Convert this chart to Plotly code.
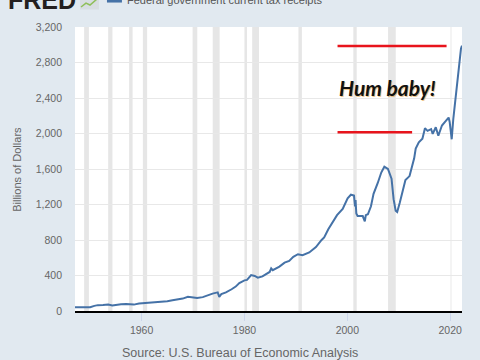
import plotly.graph_objects as go

years = [1947.0, 1948.0, 1948.5, 1949.3, 1950.0, 1950.8, 1951.5, 1952.5, 1953.5, 1954.3,
         1955.0, 1956.0, 1957.0, 1957.8, 1958.5, 1959.5, 1960.3, 1961.0, 1962.0, 1963.0,
         1964.0, 1965.0, 1966.0, 1967.0, 1968.0, 1969.0, 1970.0, 1970.8, 1971.9, 1973.0,
         1973.8, 1974.8, 1975.1, 1975.5, 1976.4, 1977.5, 1978.3, 1979.0, 1980.0, 1980.5,
         1981.3, 1982.0, 1982.6, 1983.5, 1984.5, 1984.9, 1985.2, 1985.5, 1986.8, 1987.8,
         1988.7, 1989.5, 1990.4, 1991.3, 1992.6, 1993.9, 1995.0, 1995.5, 1996.3, 1997.1,
         1998.0, 1999.1, 2000.06, 2000.7, 2001.3, 2001.5, 2001.6, 2001.75, 2002.0, 2003.0,
         2003.4, 2003.6, 2004.0, 2004.6, 2005.1, 2005.9, 2006.6, 2007.2, 2007.9, 2008.6,
         2009.0, 2009.4, 2009.7, 2010.2, 2010.8, 2011.3, 2012.1, 2013.0, 2013.3, 2013.9,
         2014.6, 2015.1, 2015.6, 2016.3, 2016.6, 2017.2, 2017.7, 2018.4, 2019.2, 2019.7,
         2019.9, 2020.3, 2020.6, 2021.1, 2021.6, 2022.1, 2022.3]
receipts = [42, 43, 41, 36, 42, 58, 66, 68, 72, 63,
            70, 76, 78, 74, 72, 84, 88, 85, 94, 99,
            100, 110, 120, 126, 140, 160, 152, 146, 156, 180,
            196, 210, 160, 190, 210, 245, 275, 315, 345, 350,
            405, 395, 375, 390, 425, 440, 480, 460, 500, 545,
            565, 610, 640, 628, 660, 720, 800, 830, 920, 1000,
            1080, 1150, 1270, 1310, 1300, 1180, 1250, 1100, 1070, 1070,
            1010, 1080, 1090, 1180, 1320, 1440, 1560, 1625, 1600, 1490,
            1260, 1130, 1115, 1220, 1350, 1475, 1520, 1720, 1830, 1900,
            1940, 2060, 2030, 2050, 1995, 2070, 1975, 2090, 2145, 2180,
            2130, 1935, 2160, 2430, 2690, 2955, 2990]

recession_start = [1948.83, 1953.5, 1957.58, 1960.25, 1969.92, 1973.83, 1980.0, 1981.5, 1990.5, 2001.17, 2007.92, 2020.08]
recession_end = [1949.75, 1954.33, 1958.25, 1961.08, 1970.83, 1975.17, 1980.5, 1982.83, 1991.17, 2001.83, 2009.42, 2020.25]

x_ticks = [1960, 1980, 2000, 2020]
y_ticks = [0, 400, 800, 1200, 1600, 2000, 2400, 2800, 3200]

# annotation lines (year start, year end, level)
red_lines = [(1998.1, 2019.3, 2985), (1998.1, 2012.6, 2013)]
note_text = "Hum baby!"
note_pos = (2007.8, 2520)

series_name = "Federal government current tax receipts"
y_title = "Billions of Dollars"
source = "Source: U.S. Bureau of Economic Analysis"

BG = "#e1e9f0"
LINE = "#4572a7"
GREY = "#666666"

PW, PH, L, T = 387.5, 284.5, 75, 27


def px(xp):
    return (xp - L) / PW


def py(yp):
    return (T + PH - yp) / PH


fig = go.Figure()
fig.add_trace(go.Scatter(x=years, y=receipts, mode="lines",
                         line=dict(color=LINE, width=2), name=series_name,
                         showlegend=False))

shapes = []
for s, e in zip(recession_start, recession_end):
    shapes.append(dict(type="rect", xref="x", yref="paper", x0=s, x1=e, y0=0, y1=1,
                       fillcolor="#e6e6e6", line=dict(width=0), layer="below"))
for x0, x1, lv in red_lines:
    shapes.append(dict(type="line", xref="x", yref="y", x0=x0, x1=x1, y0=lv, y1=lv,
                       line=dict(color="#e8141c", width=2.5)))
# legend swatch
shapes.append(dict(type="rect", xref="paper", yref="paper", x0=px(107), x1=px(122),
                   y0=py(2.5), y1=py(-3), fillcolor=LINE, line=dict(width=0)))
# small FRED logo icon
shapes.append(dict(type="rect", xref="paper", yref="paper", x0=px(80), x1=px(99),
                   y0=py(9.5), y1=py(-6), fillcolor="#d8dde2", line=dict(width=0)))
shapes.append(dict(type="path", xref="paper", yref="paper",
                   path=f"M {px(81)} {py(7)} L {px(86)} {py(3)} L {px(90)} {py(5)} L {px(97)} {py(-1)}",
                   line=dict(color="#8fbf5a", width=1.5)))
fig.update_layout(shapes=shapes)

annotations = [
    dict(x=note_pos[0], y=note_pos[1], xref="x", yref="y", text="<b><i>" + note_text + "</i></b>",
         showarrow=False, font=dict(family="Lato", size=21, color="#111111",
                                    shadow="1px 1px 0px rgba(225,150,40,0.55)")),
    dict(x=px(125), y=py(8), xref="paper", yref="paper", xanchor="left", yanchor="bottom",
         text=series_name, showarrow=False, font=dict(family="Arial", size=11, color="#555555")),
    dict(x=px(6), y=py(16), xref="paper", yref="paper", xanchor="left", yanchor="bottom",
         text="<b>FRED</b>", showarrow=False,
         font=dict(family="Liberation Sans", size=25, color="#231f20")),
    dict(x=px(120), y=py(354), xref="paper", yref="paper", xanchor="left", yanchor="middle",
         text=source, showarrow=False, font=dict(family="Arial", size=12.5, color="#666666")),
    dict(x=px(17), y=py(170), xref="paper", yref="paper", xanchor="center", yanchor="middle",
         text=y_title, textangle=-90, showarrow=False, font=dict(family="Arial", size=11, color=GREY)),
]
fig.update_layout(annotations=annotations)

fig.update_layout(
    width=480, height=360,
    margin=dict(l=75, r=17.5, t=27, b=48.5),
    paper_bgcolor=BG, plot_bgcolor="white",
    font=dict(family="Arial", color=GREY, size=11),
    showlegend=False,
    xaxis=dict(range=[1947.05, 2022.3], tickvals=x_ticks, ticktext=[str(t) for t in x_ticks],
               showgrid=False, zeroline=False, showline=True, linecolor="black", linewidth=2,
               ticks="outside", ticklen=8, tickcolor="#ccd6eb", tickfont=dict(size=10.5, color=GREY)),
    yaxis=dict(range=[0, 3200], tickvals=y_ticks, ticktext=[f"{t:,}" for t in y_ticks],
               showgrid=True, gridcolor="#e8e8e8", gridwidth=1, zeroline=False, showline=False,
               ticks="", ticklabelstandoff=12, tickfont=dict(size=10.5, color=GREY)),
)

fig.write_html("out.html")
